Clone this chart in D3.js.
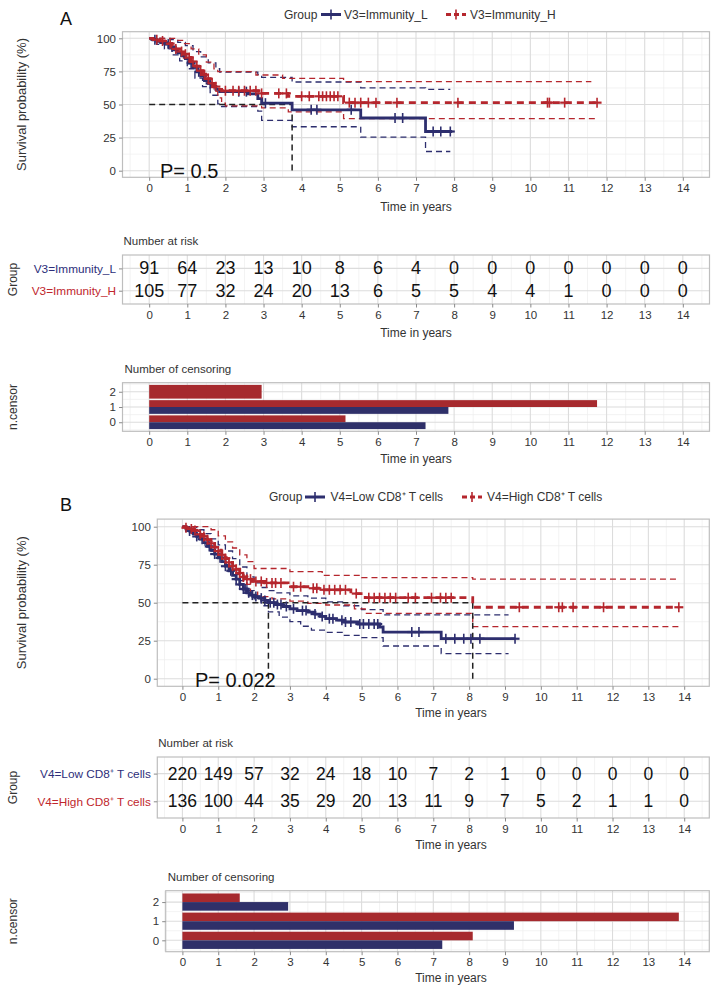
<!DOCTYPE html>
<html><head><meta charset="utf-8">
<script src="https://cdn.jsdelivr.net/npm/d3@7"></script>
<style>body{margin:0;background:#fff}svg{display:block}</style>
</head><body><svg id="c" width="718" height="994"></svg>
<script>
// ---------------- DATA ----------------
const years = [0,1,2,3,4,5,6,7,8,9,10,11,12,13,14];
const survTicks = [0,25,50,75,100];
const censorLevels = [0,1,2];

// Panel A
const A_groups = ["V3=Immunity_L","V3=Immunity_H"];
const A_pText = "P= 0.5";
const A_L_steps = [[0,100],[0.1,98.9],[0.2,97.8],[0.3,96.7],[0.45,95.6],[0.55,93.4],[0.65,91.2],[0.75,89],[0.85,86.8],[0.95,84.6],[1.05,81.3],[1.15,78],[1.25,74.7],[1.35,71.4],[1.45,68.1],[1.55,65.9],[1.65,63.7],[1.75,61.5],[1.85,59.7],[2.6,58],[2.85,54.5],[2.95,51],[3.75,46],[5.55,39.8],[7.25,29.6],[7.95,29.6]];
const A_L_ticks = [0.15,0.5,0.6,1.1,1.3,1.6,2.35,2.55,3.05,4.25,4.4,5.3,6.45,6.65,7.45,7.65,7.9];
const A_L_upper = [[0,100],[0.55,99],[0.75,97],[0.95,94.5],[1.15,90],[1.35,86],[1.55,81.5],[1.75,77],[1.85,74.5],[2.85,72.5],[2.95,70.5],[3.75,67],[5.55,62.5],[7.25,61.5],[7.9,61.5]];
const A_L_lower = [[0,100],[0.2,95.5],[0.4,92],[0.6,87.5],[0.8,83],[1.0,77],[1.2,70],[1.4,63.5],[1.6,57],[1.8,50.5],[1.9,48.5],[2.85,45],[2.95,38],[3.75,33.2],[5.55,25.4],[7.25,14.5],[7.9,14.5]];
const A_H_steps = [[0,100],[0.1,99],[0.25,98],[0.4,97],[0.5,96],[0.6,94],[0.7,92],[0.8,90],[0.9,88],[1.0,85.5],[1.1,82.5],[1.2,79],[1.3,75.5],[1.4,72.5],[1.5,69.5],[1.6,66],[1.7,63.5],[1.8,61.5],[1.9,60.4],[2.95,58.4],[3.65,56.2],[5.1,51.4],[11.75,51.4]];
const A_H_ticks = [0.2,0.35,0.55,0.7,0.85,0.95,1.05,1.15,1.25,1.35,1.45,1.55,1.65,1.75,2.0,2.2,2.35,2.5,2.65,2.8,2.95,3.4,3.6,4.0,4.2,4.45,4.55,4.65,4.75,4.85,4.95,5.25,5.4,5.55,5.75,5.95,6.5,8.1,10.45,10.5,10.9,11.75];
const A_H_upper = [[0,100],[0.7,98.5],[0.9,96],[1.1,92],[1.3,87.5],[1.5,82],[1.7,77],[1.8,74.8],[2.8,72.3],[3.5,69.8],[5.1,67.3],[11.6,67.3]];
const A_H_lower = [[0,100],[0.3,97],[0.5,94],[0.7,89.5],[0.9,85],[1.1,79.5],[1.3,73.5],[1.5,67],[1.7,60],[1.8,55],[1.9,51],[2.0,49],[2.95,47.5],[3.65,44.5],[5.1,39.3],[11.7,39.3]];
const A_median = [3.75];
const A_risk_L = [91,64,23,13,10,8,6,4,0,0,0,0,0,0,0];
const A_risk_H = [105,77,32,24,20,13,6,5,5,4,4,1,0,0,0];
const A_censor_L = [7.25,7.85,null];
const A_censor_H = [5.15,11.75,2.95];

// Panel B
const B_groups = ["V4=Low CD8\u207A T cells","V4=High CD8\u207A T cells"];
const B_pText = "P= 0.022";
const B_L_steps = [[0,100],[0.1,98.6],[0.2,97.2],[0.3,95.4],[0.4,93.6],[0.5,91.8],[0.6,89.5],[0.7,87],[0.8,84.5],[0.9,82],[1.0,79.5],[1.1,77],[1.2,74],[1.3,71],[1.4,68],[1.5,65.5],[1.6,62],[1.7,59],[1.8,56.5],[1.9,55],[2.0,54],[2.15,53],[2.3,51.5],[2.4,50],[2.6,48.8],[2.8,47.5],[3.0,46],[3.2,44.8],[3.5,43.8],[3.7,42.5],[3.85,41],[4.0,39.5],[4.3,38.5],[4.5,37.3],[4.9,36],[5.5,34],[5.6,30.7],[7.22,26.3],[9.28,26.3]];
const B_L_ticks = [0.2,0.4,0.55,0.75,0.9,1.05,1.2,1.35,1.5,1.6,1.7,1.75,1.85,1.95,2.05,2.2,2.3,2.45,2.55,2.65,2.75,2.9,3.1,3.35,3.45,3.7,3.9,4.1,4.2,4.45,4.55,4.7,4.95,5.05,5.2,5.35,5.45,6.4,6.6,7.35,7.6,7.85,8.05,8.3,9.28];
const B_L_upper = [[0,100],[0.2,100],[0.4,98],[0.6,95.5],[0.8,92],[1.0,88],[1.2,84],[1.4,79],[1.6,73.5],[1.8,67],[2.0,63],[2.2,60],[2.4,58],[2.6,56.5],[3.0,54.5],[3.5,53],[4.0,50.5],[4.5,48],[5.0,45.5],[5.6,42],[9.1,42]];
const B_L_lower = [[0,100],[0.2,96],[0.4,92],[0.6,88],[0.8,84],[1.0,79.5],[1.2,75],[1.4,70],[1.6,64.5],[1.8,58],[2.0,52.5],[2.2,48],[2.4,44],[2.7,40.5],[3.0,37.5],[3.3,34.5],[3.6,32],[4.0,30.5],[4.5,28.5],[5.0,27],[5.6,21.5],[7.22,16.5],[9.1,16.5]];
const B_H_steps = [[0,100],[0.1,99.3],[0.2,98.5],[0.3,97.5],[0.4,96.5],[0.5,95],[0.6,93.5],[0.7,91.5],[0.8,89],[0.9,86.5],[1.0,84],[1.1,81.5],[1.2,79],[1.3,76.5],[1.4,74],[1.5,72],[1.6,69.5],[1.7,67],[1.8,65.5],[1.95,64],[2.3,63],[2.95,62],[3.0,60.5],[3.5,59.5],[3.9,58.5],[4.7,56],[5.1,53.3],[8.1,47],[13.85,47]];
const B_H_ticks = [0.1,0.25,0.35,0.5,0.6,0.7,0.8,0.9,1.0,1.1,1.2,1.3,1.4,1.5,1.6,1.7,1.8,1.9,2.05,2.2,2.35,2.5,2.6,2.75,3.1,3.3,3.65,3.75,3.95,4.1,4.25,4.4,4.55,4.85,5.2,5.35,5.5,5.65,5.8,5.95,6.3,6.5,6.95,7.2,7.35,7.5,9.4,10.5,10.6,10.9,11.75,13.85];
const B_H_upper = [[0,100],[0.6,100],[0.8,98],[1.0,94],[1.2,90],[1.4,86],[1.6,81.5],[1.8,77],[2.0,72.5],[3.0,70.5],[3.9,68],[5.0,66.5],[8.1,65.5],[13.85,65.5]];
const B_H_lower = [[0,100],[0.3,97],[0.5,94],[0.7,90],[0.9,85],[1.1,80],[1.3,74.5],[1.5,68.5],[1.7,62],[1.9,57],[2.1,54],[2.5,52.5],[3.0,51],[3.5,49.5],[4.0,48.5],[4.8,46],[5.1,43],[8.1,34.2],[13.85,34.2]];
const B_median = [2.4, 8.1];
const B_risk_L = [220,149,57,32,24,18,10,7,2,1,0,0,0,0,0];
const B_risk_H = [136,100,44,35,29,20,13,11,9,7,5,2,1,1,0];
const B_censor_L = [7.25,9.25,2.95];
const B_censor_H = [8.1,13.85,1.6];

// ---------------- STYLE ----------------
const FONT = '"Liberation Sans", Arial, Helvetica, sans-serif';
const BLUE = "#2D2E6E", RED = "#B5262D", BARRED = "#A62A2E", BARBLUE = "#2F3069";
const GMAJ = "#DCDCDC", GMIN = "#EEEEEE", BORDER = "#BEBEBE", TXT = "#333333";

const svg = d3.select("#c").style("font-family", FONT);

function halfSteps(lo, hi) { const r = []; for (let v = lo; v <= hi + 1e-9; v += 1) r.push(v); return r; }

function grid(g, x, y, box, vMaj, vMin, hMajPx, hMinPx) {
  const gg = g.append("g");
  vMin.forEach(v => gg.append("line").attr("x1", x(v)).attr("x2", x(v)).attr("y1", box.y0).attr("y2", box.y1).attr("stroke", GMIN).attr("stroke-width", 0.7));
  hMinPx.forEach(p => gg.append("line").attr("x1", box.x0).attr("x2", box.x1).attr("y1", p).attr("y2", p).attr("stroke", GMIN).attr("stroke-width", 0.7));
  vMaj.forEach(v => gg.append("line").attr("x1", x(v)).attr("x2", x(v)).attr("y1", box.y0).attr("y2", box.y1).attr("stroke", GMAJ).attr("stroke-width", 1.1));
  hMajPx.forEach(p => gg.append("line").attr("x1", box.x0).attr("x2", box.x1).attr("y1", p).attr("y2", p).attr("stroke", GMAJ).attr("stroke-width", 1.1));
}
function border(g, box) {
  g.append("rect").attr("x", box.x0).attr("y", box.y0).attr("width", box.x1 - box.x0).attr("height", box.y1 - box.y0)
    .attr("fill", "none").attr("stroke", BORDER).attr("stroke-width", 1.2);
}
function styleAxis(a, fs) {
  a.select(".domain").remove();
  a.selectAll(".tick line").attr("stroke", "#8a8a8a").attr("stroke-width", 1);
  a.selectAll(".tick text").attr("fill", TXT).style("font-size", fs + "px").style("font-family", FONT);
}
function xAxis(g, x, yPos, titleX, titleY) {
  const a = g.append("g").attr("transform", `translate(0,${yPos})`)
    .call(d3.axisBottom(x).tickValues(years).tickFormat(d3.format("d")).tickSize(3.5).tickPadding(3));
  styleAxis(a, 11.5);
  g.append("text").attr("x", titleX).attr("y", titleY).attr("text-anchor", "middle").attr("fill", TXT)
    .style("font-size", "12px").text("Time in years");
}
function rotTitle(g, x, y, txt, fs) {
  g.append("text").attr("transform", `translate(${x},${y}) rotate(-90)`).attr("text-anchor", "middle")
    .attr("dominant-baseline", "central").attr("fill", TXT).style("font-size", fs + "px").text(txt);
}
function stepLookup(steps, t) { let s = steps[0][1]; for (const d of steps) if (d[0] <= t + 1e-9) s = d[1]; return s; }

function legend(g, y, lx, groups) {
  const gg = g.append("g");
  gg.append("text").attr("x", lx.group).attr("y", y).attr("dominant-baseline", "central").attr("fill", TXT).style("font-size", "12px").text("Group");
  const keys = [[lx.k1, BLUE, null, groups[0], lx.t1], [lx.k2, RED, "5,3", groups[1], lx.t2]];
  keys.forEach(([kx, col, dash, label, tx]) => {
    gg.append("line").attr("x1", kx).attr("x2", kx + 20).attr("y1", y).attr("y2", y).attr("stroke", col).attr("stroke-width", 3)
      .attr("stroke-dasharray", dash);
    gg.append("line").attr("x1", kx + 10).attr("x2", kx + 10).attr("y1", y - 5).attr("y2", y + 5).attr("stroke", col).attr("stroke-width", 1.6);
    gg.append("text").attr("x", tx).attr("y", y).attr("dominant-baseline", "central").attr("fill", TXT).style("font-size", "12px").text(label);
  });
}

function survPanel(cfg) {
  const g = svg.append("g");
  const { x, y, box } = cfg;
  const vMin = halfSteps(-0.5, 14.5);
  const hMaj = survTicks.map(y);
  const hMin = [12.5, 37.5, 62.5, 87.5].map(y);
  grid(g, x, y, box, years, vMin, hMaj, hMin);
  const line = d3.line().x(d => x(d[0])).y(d => y(d[1])).curve(d3.curveStepAfter);
  cfg.ci.forEach(([data, col]) => g.append("path").attr("d", line(data)).attr("fill", "none").attr("stroke", col)
    .attr("stroke-width", 1.3).attr("stroke-dasharray", "6,4"));
  const mMax = d3.max(cfg.median);
  g.append("line").attr("x1", x(0)).attr("x2", x(mMax)).attr("y1", y(50)).attr("y2", y(50))
    .attr("stroke", "#222").attr("stroke-width", 1.5).attr("stroke-dasharray", "6,4");
  cfg.median.forEach(m => g.append("line").attr("x1", x(m)).attr("x2", x(m)).attr("y1", y(50)).attr("y2", y(0))
    .attr("stroke", "#222").attr("stroke-width", 1.5).attr("stroke-dasharray", "6,4"));
  cfg.curves.forEach(([data, ticks, col, dash]) => {
    g.append("path").attr("d", line(data)).attr("fill", "none").attr("stroke", col).attr("stroke-width", 2.8)
      .attr("stroke-dasharray", dash);
    ticks.forEach(t => {
      const px = x(t), py = y(stepLookup(data, t));
      g.append("line").attr("x1", px).attr("x2", px).attr("y1", py - 5).attr("y2", py + 5).attr("stroke", col).attr("stroke-width", 1.6);
      g.append("line").attr("x1", px - 4.5).attr("x2", px + 4.5).attr("y1", py).attr("y2", py).attr("stroke", col).attr("stroke-width", 2.2);
    });
  });
  border(g, box);
  const ya = g.append("g").attr("transform", `translate(${box.x0},0)`).call(d3.axisLeft(y).tickValues(survTicks).tickSize(3.5).tickPadding(3));
  styleAxis(ya, 11.5);
  xAxis(g, x, box.y1, cfg.xTitleX, cfg.xTitleY);
  rotTitle(g, 21.5, (box.y0 + box.y1) / 2, "Survival probability (%)", 13);
  g.append("text").attr("x", cfg.pX).attr("y", box.y1 + 1).attr("fill", "#111").style("font-size", "20px").text(cfg.pText);
}

function riskPanel(cfg) {
  const g = svg.append("g");
  const { x, box, groups } = cfg;
  const yr = d3.scalePoint().domain(groups).range(cfg.rows);
  grid(g, x, null, box, years, halfSteps(-0.5, 14.5), groups.map(yr), []);
  [[cfg.L, groups[0]], [cfg.H, groups[1]]].forEach(([vals, grp]) => {
    g.selectAll(null).data(vals).enter().append("text")
      .attr("x", (d, i) => x(years[i])).attr("y", yr(grp)).attr("text-anchor", "middle").attr("dominant-baseline", "central")
      .attr("fill", "#111").style("font-size", cfg.fs + "px").text(d => d);
  });
  border(g, box);
  const ya = g.append("g").attr("transform", `translate(${box.x0},0)`).call(d3.axisLeft(yr).tickSize(3.5).tickPadding(3));
  styleAxis(ya, 11.8);
  ya.selectAll(".tick text").attr("fill", (d, i) => i === 0 ? "#2D2E7A" : "#C0262D");
  xAxis(g, x, box.y1, cfg.xTitleX, cfg.xTitleY);
  g.append("text").attr("x", box.x0 + 1).attr("y", box.y0 - 10).attr("fill", TXT).style("font-size", "11.5px").text("Number at risk");
  rotTitle(g, 13, (box.y0 + box.y1) / 2, "Group", 12);
}

function censorPanel(cfg) {
  const g = svg.append("g");
  const { x, box } = cfg;
  const y = d3.scaleLinear().domain([-0.595, 2.595]).range([box.y1, box.y0]);
  grid(g, x, y, box, years, halfSteps(-0.5, 14.5), censorLevels.map(y), [-0.5, 0.5, 1.5, 2.5].map(y));
  censorLevels.forEach(k => {
    const l = cfg.L[k], h = cfg.H[k];
    if (l != null && h != null) {
      g.append("rect").attr("x", x(0)).attr("width", x(h) - x(0)).attr("y", y(k + 0.45)).attr("height", y(k) - y(k + 0.45)).attr("fill", BARRED);
      g.append("rect").attr("x", x(0)).attr("width", x(l) - x(0)).attr("y", y(k)).attr("height", y(k - 0.45) - y(k)).attr("fill", BARBLUE);
    } else {
      const v = l != null ? l : h, col = l != null ? BARBLUE : BARRED;
      g.append("rect").attr("x", x(0)).attr("width", x(v) - x(0)).attr("y", y(k + 0.45)).attr("height", y(k - 0.45) - y(k + 0.45)).attr("fill", col);
    }
  });
  border(g, box);
  const ya = g.append("g").attr("transform", `translate(${box.x0},0)`)
    .call(d3.axisLeft(y).tickValues(censorLevels).tickFormat(d3.format("d")).tickSize(3.5).tickPadding(3));
  styleAxis(ya, 11.5);
  xAxis(g, x, box.y1, cfg.xTitleX, cfg.xTitleY);
  g.append("text").attr("x", box.x0 + 2).attr("y", box.y0 - 10).attr("fill", TXT).style("font-size", "11.5px").text("Number of censoring");
  rotTitle(g, 13, (box.y0 + box.y1) / 2, "n.censor", 12);
}

// ---------------- PANEL A ----------------
const xA = d3.scaleLinear().domain([-0.7, 14.7]).range([122.5, 709.5]);
const yA = d3.scaleLinear().domain([-5, 105]).range([177.3, 31.7]);
svg.append("text").attr("x", 66).attr("y", 25).attr("text-anchor", "middle").attr("fill", "#111").style("font-size", "18px").text("A");
legend(svg, 14.5, { group: 284, k1: 321, t1: 344, k2: 446, t2: 470 }, A_groups);
survPanel({
  x: xA, y: yA, box: { x0: 122.5, x1: 709.5, y0: 31.7, y1: 177.3 },
  ci: [[A_L_upper, BLUE], [A_L_lower, BLUE], [A_H_upper, RED], [A_H_lower, RED]],
  curves: [[A_L_steps, A_L_ticks, BLUE, null], [A_H_steps, A_H_ticks, RED, "7,5"]],
  median: A_median, pText: A_pText, pX: 160, xTitleX: 416, xTitleY: 211
});
riskPanel({ x: xA, box: { x0: 122.5, x1: 709.5, y0: 255, y1: 304 }, rows: [268.4, 290.7], groups: A_groups,
  L: A_risk_L, H: A_risk_H, fs: 18, xTitleX: 416, xTitleY: 337 });
censorPanel({ x: xA, box: { x0: 122.5, x1: 709.5, y0: 382.7, y1: 431.3 }, L: A_censor_L, H: A_censor_H, xTitleX: 416, xTitleY: 463 });

// ---------------- PANEL B ----------------
const xB = d3.scaleLinear().domain([-0.7, 14.7]).range([157.3, 709.3]);
const yB = d3.scaleLinear().domain([-5, 105]).range([686.3, 519.1]);
svg.append("text").attr("x", 66).attr("y", 511).attr("text-anchor", "middle").attr("fill", "#111").style("font-size", "18px").text("B");
legend(svg, 497, { group: 269, k1: 305, t1: 330.5, k2: 462, t2: 487 }, B_groups);
survPanel({
  x: xB, y: yB, box: { x0: 157.3, x1: 709.3, y0: 519.1, y1: 686.3 },
  ci: [[B_L_upper, BLUE], [B_L_lower, BLUE], [B_H_upper, RED], [B_H_lower, RED]],
  curves: [[B_L_steps, B_L_ticks, BLUE, null], [B_H_steps, B_H_ticks, RED, "7,5"]],
  median: B_median, pText: B_pText, pX: 195, xTitleX: 451, xTitleY: 717
});
riskPanel({ x: xB, box: { x0: 157.3, x1: 709.3, y0: 757, y1: 818 }, rows: [773.6, 801.3], groups: B_groups,
  L: B_risk_L, H: B_risk_H, fs: 17.5, xTitleX: 451, xTitleY: 849 });
censorPanel({ x: xB, box: { x0: 165.7, x1: 709.3, y0: 890.7, y1: 951.7 }, L: B_censor_L, H: B_censor_H, xTitleX: 451, xTitleY: 982 });
</script>
</body></html>
